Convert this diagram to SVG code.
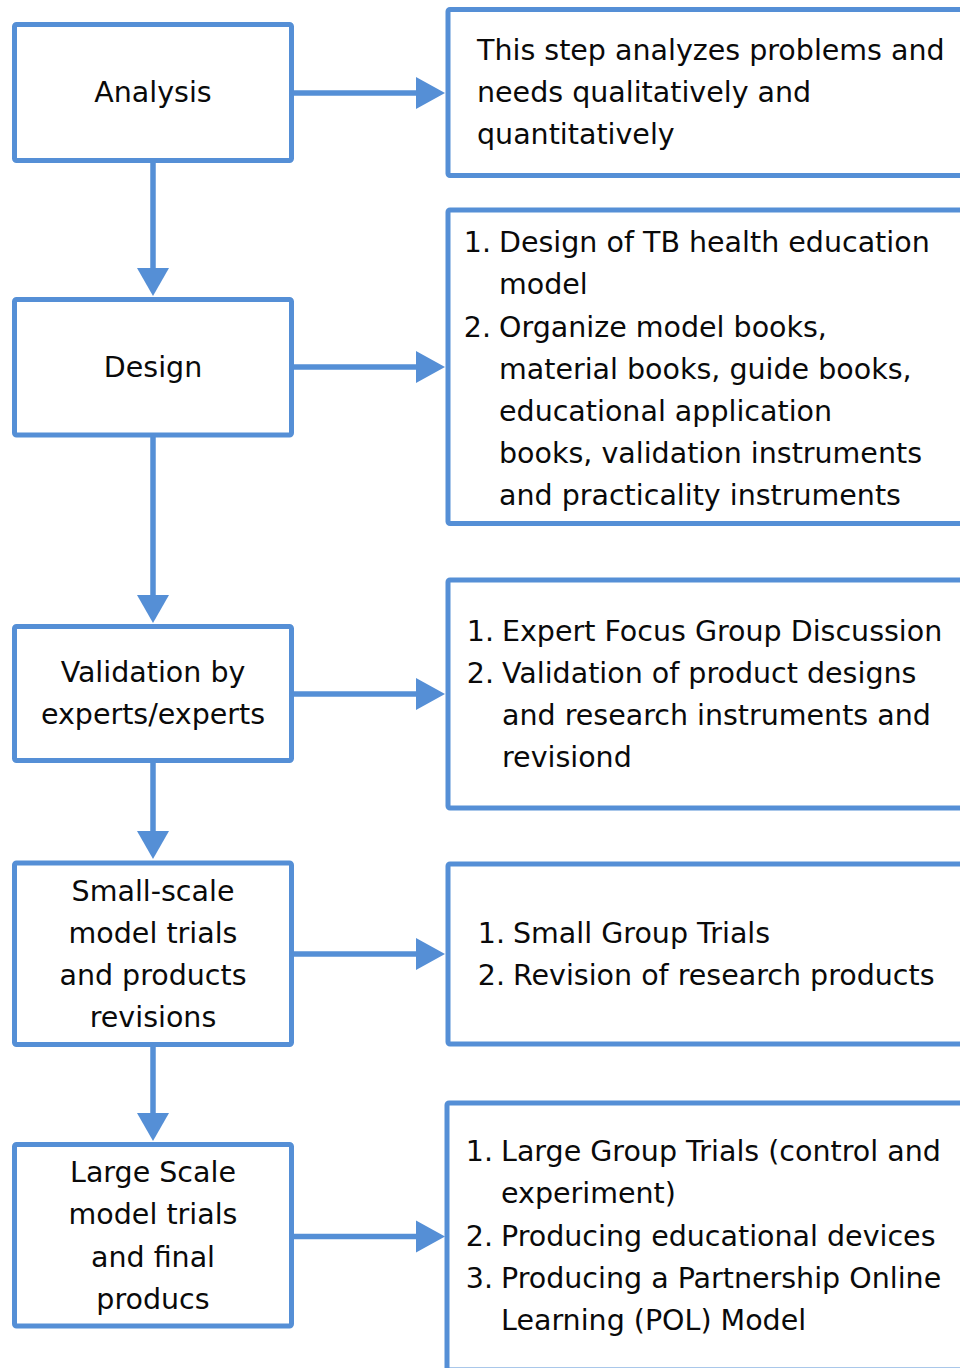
<svg xmlns="http://www.w3.org/2000/svg" width="960" height="1368" viewBox="0 0 960 1368">
<style>
.box{fill:#fff;stroke:#558FD6;stroke-width:5}
.ln{fill:none;stroke:#558FD6;stroke-width:5.5}
.hd{fill:#558FD6;stroke:none}
text{font-family:"DejaVu Sans","Noto Sans",sans-serif;font-size:28.5px;fill:#0a0a0a}
.c{text-anchor:middle}
.n{text-anchor:end}
</style>
<rect width="960" height="1368" fill="#fff"/>
<g id="connectors">
<line class="ln" x1="153" y1="162" x2="153" y2="270"/><polygon class="hd" points="137,268 169,268 153,296"/>
<line class="ln" x1="153" y1="437" x2="153" y2="597"/><polygon class="hd" points="137,595 169,595 153,623"/>
<line class="ln" x1="153" y1="762" x2="153" y2="833"/><polygon class="hd" points="137,831 169,831 153,859"/>
<line class="ln" x1="153" y1="1046" x2="153" y2="1115"/><polygon class="hd" points="137,1113 169,1113 153,1141"/>
<line class="ln" x1="293" y1="93" x2="418" y2="93"/><polygon class="hd" points="416,77 445,93 416,109"/>
<line class="ln" x1="293" y1="367" x2="418" y2="367"/><polygon class="hd" points="416,351 445,367 416,383"/>
<line class="ln" x1="293" y1="694" x2="418" y2="694"/><polygon class="hd" points="416,678 445,694 416,710"/>
<line class="ln" x1="293" y1="954" x2="418" y2="954"/><polygon class="hd" points="416,938 445,954 416,970"/>
<line class="ln" x1="293" y1="1236.5" x2="418" y2="1236.5"/><polygon class="hd" points="416,1220.5 445,1236.5 416,1252.5"/>
</g>
<g id="analysis">
<rect class="box" x="14.5" y="24.5" width="277" height="136" rx="2"/>
<text class="c" x="153" y="102">Analysis</text>
</g>
<g id="design">
<rect class="box" x="14.5" y="299.5" width="277" height="135.5" rx="2"/>
<text class="c" x="153" y="377">Design</text>
</g>
<g id="validation">
<rect class="box" x="14.5" y="626.5" width="277" height="134" rx="2"/>
<text class="c" x="153" y="682">Validation by</text>
<text class="c" x="153" y="724">experts/experts</text>
</g>
<g id="small-scale">
<rect class="box" x="14.5" y="863" width="277" height="181.5" rx="2"/>
<text class="c" x="153" y="901">Small-scale</text>
<text class="c" x="153" y="943">model trials</text>
<text class="c" x="153" y="985">and products</text>
<text class="c" x="153" y="1027">revisions</text>
</g>
<g id="large-scale">
<rect class="box" x="14.5" y="1144.5" width="277" height="181.5" rx="2"/>
<text class="c" x="153" y="1182">Large Scale</text>
<text class="c" x="153" y="1224">model trials</text>
<text class="c" x="153" y="1267">and final</text>
<text class="c" x="153" y="1309">producs</text>
</g>
<g id="analysis-desc">
<rect class="box" x="448" y="9.5" width="520" height="166" rx="2"/>
<text x="477" y="60">This step analyzes problems and</text>
<text x="477" y="102">needs qualitatively and</text>
<text x="477" y="144">quantitatively</text>
</g>
<g id="design-desc">
<rect class="box" x="448" y="210" width="520" height="313.5" rx="2"/>
<text class="n" x="491" y="252">1.</text><text x="499" y="252">Design of TB health education</text>
<text x="499" y="294">model</text>
<text class="n" x="491" y="337">2.</text><text x="499" y="337">Organize model books,</text>
<text x="499" y="379">material books, guide books,</text>
<text x="499" y="421">educational application</text>
<text x="499" y="463">books, validation instruments</text>
<text x="499" y="505">and practicality instruments</text>
</g>
<g id="validation-desc">
<rect class="box" x="448" y="580" width="520" height="228" rx="2"/>
<text class="n" x="494" y="641">1.</text><text x="502" y="641">Expert Focus Group Discussion</text>
<text class="n" x="494" y="683">2.</text><text x="502" y="683">Validation of product designs</text>
<text x="502" y="725">and research instruments and</text>
<text x="502" y="767">revisiond</text>
</g>
<g id="small-scale-desc">
<rect class="box" x="448" y="864" width="520" height="180" rx="2"/>
<text class="n" x="505" y="943">1.</text><text x="513" y="943">Small Group Trials</text>
<text class="n" x="505" y="985">2.</text><text x="513" y="985">Revision of research products</text>
</g>
<g id="large-scale-desc">
<rect class="box" x="447" y="1103" width="520" height="267" rx="2"/>
<text class="n" x="493" y="1161">1.</text><text x="501" y="1161">Large Group Trials (control and</text>
<text x="501" y="1203">experiment)</text>
<text class="n" x="493" y="1246">2.</text><text x="501" y="1246">Producing educational devices</text>
<text class="n" x="493" y="1288">3.</text><text x="501" y="1288">Producing a Partnership Online</text>
<text x="501" y="1330">Learning (POL) Model</text>
</g>
</svg>
